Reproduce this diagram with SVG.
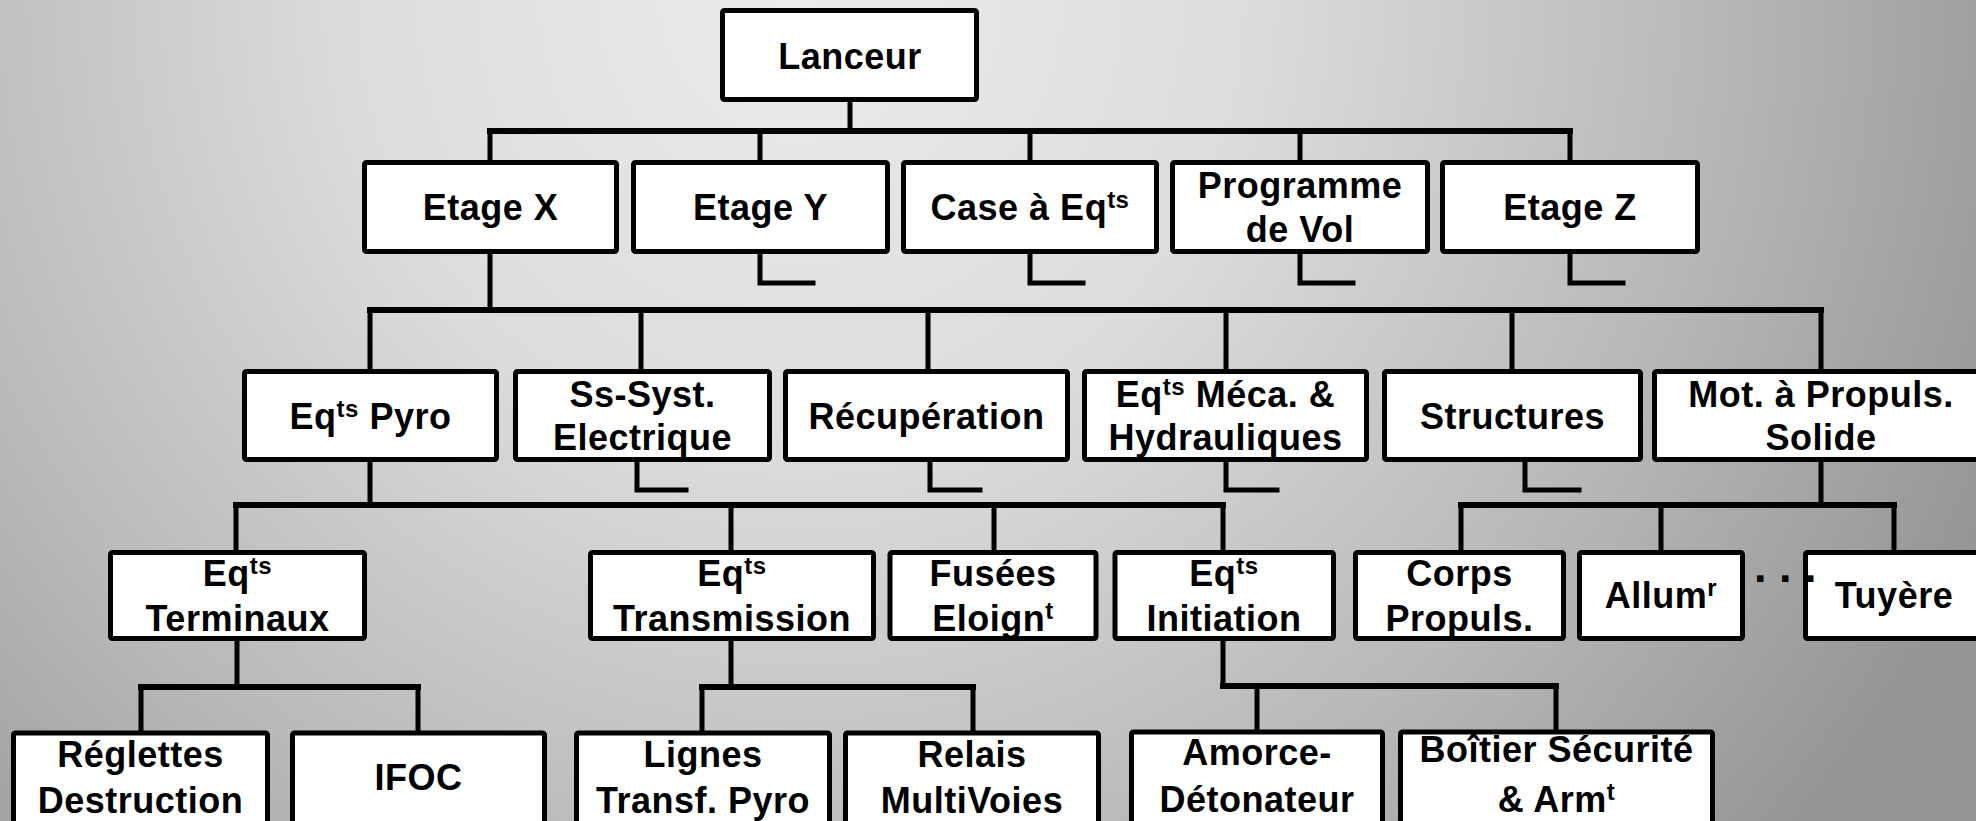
<svg xmlns="http://www.w3.org/2000/svg" width="1976" height="821" viewBox="0 0 1976 821">
<defs>
<radialGradient id="bg" gradientUnits="userSpaceOnUse" cx="800" cy="0" r="1300">
<stop offset="0" stop-color="#ececec"/>
<stop offset="0.35" stop-color="#dcdcdc"/>
<stop offset="0.7" stop-color="#b8b8b8"/>
<stop offset="1" stop-color="#959595"/>
</radialGradient>
<style>
.box{fill:#fff;stroke:#000;stroke-width:5;}
.ln{fill:none;stroke:#000;stroke-width:5;stroke-linecap:square;stroke-linejoin:miter;}
.bus{fill:none;stroke:#000;stroke-width:6;stroke-linecap:square;}
text{font-family:"Liberation Sans",Arial,Helvetica,sans-serif;font-weight:bold;font-size:36px;fill:#000;text-anchor:middle;letter-spacing:0.5px;}
.sup{font-size:24px;}
.dots{font-size:45px;text-anchor:start;letter-spacing:12.5px;}
</style>
</defs>
<rect x="0" y="0" width="1976" height="821" fill="url(#bg)"/>

<g id="connectors">
<!-- level 0 to 1 -->
<path class="ln" d="M850 102V131"/>
<path class="bus" d="M490 131H1570"/>
<path class="ln" d="M490 131V160M760 131V160M1030 131V160M1300 131V160M1570 131V160"/>
<!-- stubs level 1 -->
<path class="ln" d="M760 254V283H813M1030 254V283H1083M1300 254V283H1353M1570 254V283H1623"/>
<!-- Etage X to level 2 -->
<path class="ln" d="M490 254V310"/>
<path class="bus" d="M370 310H1821"/>
<path class="ln" d="M370 310V369M641 310V369M928 310V369M1226 310V369M1512 310V369M1821 310V369"/>
<!-- stubs level 2 -->
<path class="ln" d="M637 462V490H686M930 462V490H980M1226 462V490H1277M1525 462V490H1579"/>
<!-- Eqts Pyro to level 3 -->
<path class="ln" d="M370 462V505"/>
<path class="bus" d="M236 505H1223"/>
<path class="ln" d="M236 505V550M731 505V550M994 505V550M1223 505V550"/>
<!-- Mot. a Propuls. to level 3 -->
<path class="ln" d="M1821 462V505"/>
<path class="bus" d="M1461 505H1894"/>
<path class="ln" d="M1461 505V550M1661 505V550M1894 505V550"/>
<!-- level 3 to level 4 -->
<path class="ln" d="M237 641V687"/>
<path class="bus" d="M141 687H418"/>
<path class="ln" d="M141 687V731M418 687V731"/>
<path class="ln" d="M731 641V687"/>
<path class="bus" d="M702 687H973"/>
<path class="ln" d="M702 687V731M973 687V731"/>
<path class="ln" d="M1223 641V686"/>
<path class="bus" d="M1223 686H1556"/>
<path class="ln" d="M1257 686V730M1556 686V730"/>
</g>

<g id="n-lanceur"><rect class="box" x="722.5" y="10.5" width="254" height="89" rx="2"/><text x="850" y="69">Lanceur</text></g>

<g id="n-etage-x"><rect class="box" x="364.5" y="162.5" width="252" height="89" rx="2"/><text x="490.5" y="220">Etage X</text></g>
<g id="n-etage-y"><rect class="box" x="633.5" y="162.5" width="254" height="89" rx="2"/><text x="760.5" y="220">Etage Y</text></g>
<g id="n-case"><rect class="box" x="903.5" y="162.5" width="253" height="89" rx="2"/><text x="1030" y="220">Case à Eq<tspan class="sup" dy="-12">ts</tspan></text></g>
<g id="n-programme"><rect class="box" x="1172.5" y="162.5" width="255" height="89" rx="2"/><text x="1300" y="198">Programme</text><text x="1300" y="242">de Vol</text></g>
<g id="n-etage-z"><rect class="box" x="1442.5" y="162.5" width="255" height="89" rx="2"/><text x="1570" y="220">Etage Z</text></g>

<g id="n-pyro"><rect class="box" x="244.5" y="371.5" width="252" height="88" rx="2"/><text x="370.5" y="429">Eq<tspan class="sup" dy="-12">ts</tspan><tspan dy="12"> Pyro</tspan></text></g>
<g id="n-electrique"><rect class="box" x="515.5" y="371.5" width="254" height="88" rx="2"/><text x="642.5" y="407">Ss-Syst.</text><text x="642.5" y="450">Electrique</text></g>
<g id="n-recuperation"><rect class="box" x="785.5" y="371.5" width="282" height="88" rx="2"/><text x="926.5" y="429">Récupération</text></g>
<g id="n-meca"><rect class="box" x="1084.5" y="371.5" width="282" height="88" rx="2"/><text x="1225.5" y="407">Eq<tspan class="sup" dy="-12">ts</tspan><tspan dy="12"> Méca. &amp;</tspan></text><text x="1225.5" y="450">Hydrauliques</text></g>
<g id="n-structures"><rect class="box" x="1384.5" y="371.5" width="256" height="88" rx="2"/><text x="1512.5" y="429">Structures</text></g>
<g id="n-moteur"><rect class="box" x="1654.5" y="371.5" width="333" height="88" rx="2"/><text x="1821" y="407">Mot. à Propuls.</text><text x="1821" y="450">Solide</text></g>

<g id="n-terminaux"><rect class="box" x="110.5" y="552.5" width="254" height="86" rx="2"/><text x="237.5" y="586">Eq<tspan class="sup" dy="-12">ts</tspan></text><text x="237.5" y="631">Terminaux</text></g>
<g id="n-transmission"><rect class="box" x="590.5" y="552.5" width="283" height="86" rx="2"/><text x="732" y="586">Eq<tspan class="sup" dy="-12">ts</tspan></text><text x="732" y="631">Transmission</text></g>
<g id="n-fusees"><rect class="box" x="890" y="552.5" width="206" height="86" rx="2"/><text x="993" y="586">Fusées</text><text x="993" y="631">Eloign<tspan class="sup" dy="-12">t</tspan></text></g>
<g id="n-initiation"><rect class="box" x="1115" y="552.5" width="218.5" height="86" rx="2"/><text x="1224" y="586">Eq<tspan class="sup" dy="-12">ts</tspan></text><text x="1224" y="631">Initiation</text></g>
<g id="n-corps"><rect class="box" x="1355.5" y="552.5" width="208" height="86" rx="2"/><text x="1459.5" y="586">Corps</text><text x="1459.5" y="631">Propuls.</text></g>
<g id="n-allumeur"><rect class="box" x="1579.5" y="552.5" width="163" height="86" rx="2"/><text x="1661" y="608">Allum<tspan class="sup" dy="-12">r</tspan></text></g>
<g id="n-tuyere"><rect class="box" x="1805.5" y="552.5" width="177" height="86" rx="2"/><text x="1894" y="608">Tuyère</text></g>
<text class="dots" x="1754" y="582">...</text>

<g id="n-reglettes"><rect class="box" x="13.5" y="733" width="254" height="96" rx="2"/><text x="140.5" y="767">Réglettes</text><text x="140.5" y="813">Destruction</text></g>
<g id="n-ifoc"><rect class="box" x="292.5" y="733" width="252" height="96" rx="2"/><text x="418.5" y="790">IFOC</text></g>
<g id="n-lignes"><rect class="box" x="576.5" y="733" width="253" height="96" rx="2"/><text x="703" y="767">Lignes</text><text x="703" y="813">Transf. Pyro</text></g>
<g id="n-relais"><rect class="box" x="845.5" y="733" width="253" height="96" rx="2"/><text x="972" y="767">Relais</text><text x="972" y="813">MultiVoies</text></g>
<g id="n-amorce"><rect class="box" x="1131.5" y="732" width="251" height="97" rx="2"/><text x="1257" y="765">Amorce-</text><text x="1257" y="812">Détonateur</text></g>
<g id="n-boitier"><rect class="box" x="1400.5" y="732" width="312" height="97" rx="2"/><text x="1556.5" y="762">Boîtier Sécurité</text><text x="1556.5" y="812">&amp; Arm<tspan class="sup" dy="-12">t</tspan></text></g>
</svg>
